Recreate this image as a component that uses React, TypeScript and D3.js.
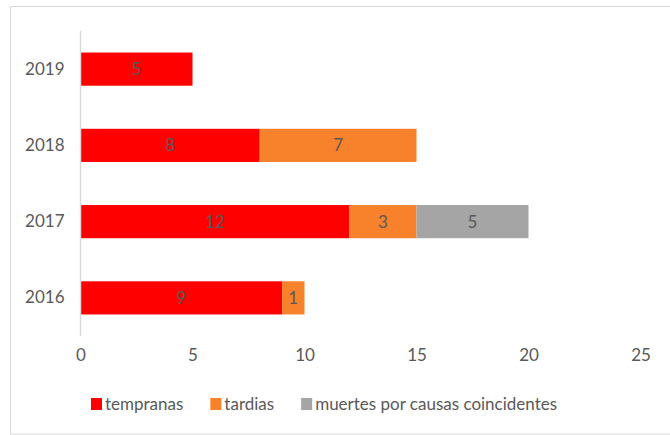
import * as d3 from "d3";
import { useEffect, useRef } from "react";

// categorías (de abajo hacia arriba) y series
const years = ["2016", "2017", "2018", "2019"];
const seriesNames = ["tempranas", "tardias", "muertes por causas coincidentes"];
const seriesColors = ["#ff0000", "#f7822b", "#a5a5a5"];
const tempranas = [9, 12, 8, 5];
const tardias = [1, 3, 7, 0];
const coincidentes = [0, 5, 0, 0];
const xTicks = [0, 5, 10, 15, 20, 25];

const FONT = "Lato, 'Open Sans', sans-serif";

export default function App() {
  const svgRef = useRef<SVGSVGElement | null>(null);
  const width = 670;
  const height = 435;

  useEffect(() => {
    if (!svgRef.current) return;
    const svg = d3.select(svgRef.current);
    svg.selectAll("*").remove();

    // marco del gráfico
    svg
      .append("rect")
      .attr("x", 10.5)
      .attr("y", 6.5)
      .attr("width", 670)
      .attr("height", 427.5)
      .attr("fill", "#fff")
      .attr("stroke", "#d9d9d9");

    const plot = { left: 80.5, right: 640.5, top: 31, bottom: 336 };

    const x = d3.scaleLinear().domain([0, 25]).range([plot.left, plot.right]);
    const y = d3
      .scaleBand()
      .domain([...years].reverse())
      .range([plot.top, plot.bottom])
      .padding(0);
    const barH = y.bandwidth() * 0.435;

    const rows = years.map((yr, i) => ({
      year: yr,
      tempranas: tempranas[i],
      tardias: tardias[i],
      coincidentes: coincidentes[i],
    }));
    const keys = ["tempranas", "tardias", "coincidentes"];
    const stack = d3.stack<any>().keys(keys)(rows);

    // barras apiladas
    stack.forEach((layer, li) => {
      const g = svg.append("g");
      layer.forEach((d) => {
        const v = d[1] - d[0];
        if (v <= 0) return;
        const cy = y(d.data.year)! + y.bandwidth() / 2;
        g.append("rect")
          .attr("x", x(d[0]))
          .attr("y", cy - barH / 2)
          .attr("width", x(d[1]) - x(d[0]))
          .attr("height", barH)
          .attr("fill", seriesColors[li]);
        g.append("text")
          .attr("x", (x(d[0]) + x(d[1])) / 2)
          .attr("y", cy)
          .attr("dy", "0.36em")
          .attr("text-anchor", "middle")
          .attr("font-family", FONT)
          .attr("font-size", 17)
          .attr("fill", "#595959")
          .text(v);
      });
    });

    // eje vertical
    svg
      .append("line")
      .attr("x1", plot.left)
      .attr("x2", plot.left)
      .attr("y1", plot.top)
      .attr("y2", plot.bottom)
      .attr("stroke", "#d9d9d9")
      .attr("stroke-width", 1.5);

    // etiquetas de años
    const yAxis = svg
      .append("g")
      .attr("transform", `translate(${plot.left},0)`)
      .call(d3.axisLeft(y).tickSize(0).tickPadding(16));
    yAxis.select(".domain").remove();
    yAxis
      .selectAll("text")
      .attr("font-family", FONT)
      .attr("font-size", 17)
      .attr("fill", "#595959");

    // eje x
    const xAxis = svg
      .append("g")
      .attr("transform", `translate(0,${plot.bottom})`)
      .call(d3.axisBottom(x).tickValues(xTicks).tickSize(0).tickPadding(13));
    xAxis.select(".domain").remove();
    xAxis
      .selectAll("text")
      .attr("font-family", FONT)
      .attr("font-size", 17)
      .attr("fill", "#595959");

    // leyenda
    const legend = svg.append("g").attr("transform", "translate(91,404)");
    let cx = 0;
    seriesNames.forEach((name, i) => {
      legend
        .append("rect")
        .attr("x", cx)
        .attr("y", -6)
        .attr("width", 11)
        .attr("height", 12)
        .attr("fill", seriesColors[i]);
      const t = legend
        .append("text")
        .attr("x", cx + 14)
        .attr("y", 0)
        .attr("dy", "0.36em")
        .attr("font-family", FONT)
        .attr("font-size", 17)
        .attr("fill", "#595959")
        .text(name);
      const w = (t.node() as SVGTextElement).getComputedTextLength();
      cx += 14 + w + 27;
    });
  }, []);

  return (
    <svg
      ref={svgRef}
      width={width}
      height={height}
      style={{ position: "absolute", left: 0, top: 0, background: "#fff" }}
    />
  );
}
